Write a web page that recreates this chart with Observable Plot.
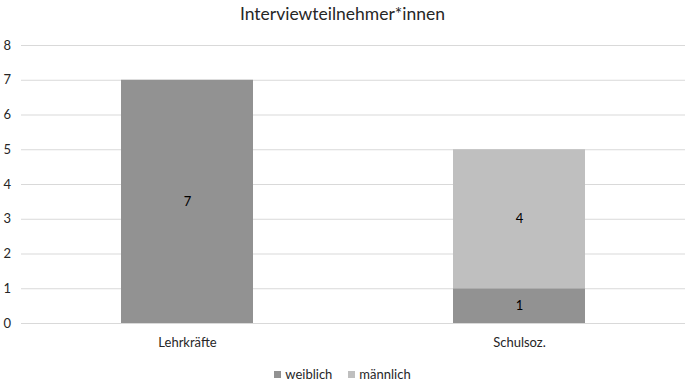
<!DOCTYPE html>
<html>
<head>
<meta charset="utf-8">
<script src="https://cdn.jsdelivr.net/npm/d3@7"></script>
<script src="https://cdn.jsdelivr.net/npm/@observablehq/plot@0.6"></script>
<style>
  html, body { margin: 0; padding: 0; background: #fff; }
  body { width: 685px; height: 385px; overflow: hidden; font-family: Lato, "Open Sans", sans-serif; }
  #title { height: 35px; line-height: 28px; text-align: center; font-size: 17.5px; color: #262626; }
  #chart svg { display: block; }
  #legend { display: flex; justify-content: center; margin-top: 1px; }
  #legend .item { display: flex; align-items: center; font-size: 13px; color: #262626; margin: 0 8px; }
  #legend .sw { width: 7px; height: 7px; margin-right: 4px; }
</style>
</head>
<body>
<div id="title">Interviewteilnehmer*innen</div>
<div id="chart"></div>
<div id="legend"></div>
<script>
const categories = ["Lehrkräfte", "Schulsoz."];
const series = ["weiblich", "männlich"];
const weiblich = [7, 1];
const maennlich = [0, 4];
const yTicks = [0, 1, 2, 3, 4, 5, 6, 7, 8];
const colors = ["#929292", "#bfbfbf"];

const data = [];
categories.forEach((c, i) => {
  if (weiblich[i] > 0) data.push({kategorie: c, geschlecht: series[0], wert: weiblich[i]});
  if (maennlich[i] > 0) data.push({kategorie: c, geschlecht: series[1], wert: maennlich[i]});
});

const chart = Plot.plot({
  width: 685,
  height: 330,
  marginTop: 10,
  marginBottom: 42,
  marginLeft: 21,
  marginRight: 0,
  style: {fontFamily: "Lato, 'Open Sans', sans-serif", fontSize: "13px", color: "#262626", background: "#fff", overflow: "visible"},
  x: {domain: categories, paddingInner: 0.6024, paddingOuter: 0.301, label: null},
  y: {domain: [0, 8], ticks: yTicks, label: null},
  color: {domain: series, range: colors},
  marks: [
    Plot.gridY(yTicks, {stroke: "#d9d9d9", strokeOpacity: 1, strokeWidth: 1}),
    Plot.axisY(yTicks, {tickSize: 0, tickPadding: 18, textAnchor: "start", label: null, fontSize: 13}),
    Plot.axisX({tickSize: 0, tickPadding: 14, label: null, fontSize: 13}),
    Plot.barY(data, {x: "kategorie", y: "wert", fill: "geschlecht", order: series}),
    Plot.text(data, Plot.stackY({x: "kategorie", y: "wert", z: "geschlecht", order: series, text: "wert", fill: "#000", fontSize: 13}))
  ]
});
document.getElementById("chart").appendChild(chart);

const legend = document.getElementById("legend");
series.forEach((s, i) => {
  const item = document.createElement("div");
  item.className = "item";
  const sw = document.createElement("span");
  sw.className = "sw";
  sw.style.background = colors[i];
  item.appendChild(sw);
  item.appendChild(document.createTextNode(s));
  legend.appendChild(item);
});
</script>
</body>
</html>
